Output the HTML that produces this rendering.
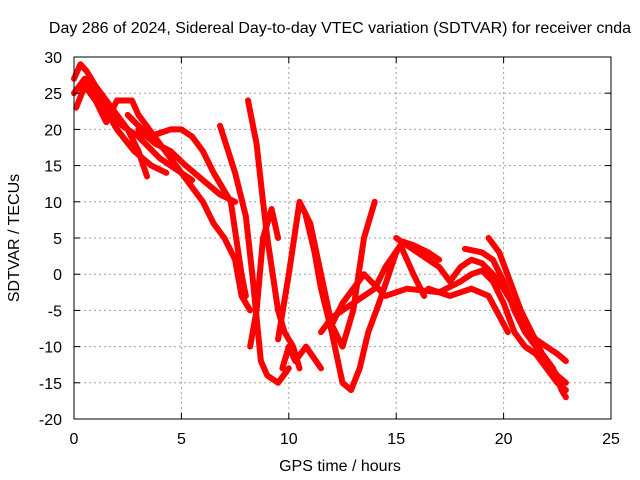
<!DOCTYPE html>
<html><head><meta charset="utf-8"><style>
body{margin:0;background:#fff;}
svg{display:block;font-family:"Liberation Sans",sans-serif;font-size:16px;}
</style></head><body>
<svg width="640" height="480">
<g id="grid"></g>
<g id="series"></g>
<rect x="74" y="57" width="537" height="362" fill="none" stroke="#000" stroke-width="1"/>
<g id="axes"></g>
<text x="340" y="33" text-anchor="middle">Day 286 of 2024, Sidereal Day-to-day VTEC variation (SDTVAR) for receiver cnda</text>
<text x="340" y="471" text-anchor="middle">GPS time / hours</text>
<text transform="translate(19,238) rotate(-90)" text-anchor="middle">SDTVAR / TECUs</text>
</svg>
<script>
const xTicks=[0,5,10,15,20,25];
const yTicks=[30,25,20,15,10,5,0,-5,-10,-15,-20];
const tA=[[0,27],[0.3,29],[0.6,28],[1,26],[1.5,24],[2,22],[2.5,20],[3,17],[3.4,13.5]];
const tB=[[0,25],[0.5,27],[1,25],[1.5,23],[2,21],[3,19],[4,16],[5,14],[5.5,13]];
const tC=[[0.1,23],[0.5,26],[1,24],[1.5,21],[2,24],[2.7,24],[3,22],[3.5,20],[4.5,16],[5.5,12],[6,10],[6.5,7],[7,5],[7.5,2],[7.8,-3],[8.2,-5]];
const tD=[[2.5,22],[3.5,19],[4.5,20],[5,20],[5.5,19],[6,17],[6.5,14],[7.3,10],[7.5,6],[7.8,0],[8,-3]];
const tE=[[6.8,20.5],[7.5,14],[8,8],[8.3,0],[8.5,-6],[8.7,-12],[9,-14],[9.5,-15],[10,-13]];
const tF=[[8.1,24],[8.5,18],[8.8,10],[9,5],[9.3,-1],[9.5,-5],[9.8,-8],[10.2,-10],[10.5,-13]];
const tG=[[8.2,-10],[8.5,-5],[8.8,5],[9.2,9],[9.5,5]];
const tH=[[9.5,-9],[10,0],[10.5,10],[11,7],[11.5,0],[12,-7],[12.5,-10],[13,-5],[13.5,5],[14,10]];
const tI=[[9.7,-13],[10,-10],[10.3,-12],[10.8,-10],[11.5,-13]];
const tJ=[[10.8,8],[11.2,3],[11.5,-2],[12,-8],[12.5,-15],[12.9,-16],[13.3,-13],[13.7,-8],[14.2,-4],[15,3],[15.3,4.5],[15.8,4],[16.5,3],[17,2]];
const tK=[[11.5,-8],[12,-6],[13,-4],[14,-2],[14.5,1],[15.2,4],[15.8,0],[16.3,-3]];
const tL=[[12,-7],[12.5,-4],[13.5,0],[14.5,-3],[15.5,-2],[17,-2.5],[18,-1],[18.5,0],[19,0.5],[19.5,-1],[20,-4],[20.5,-8],[21,-10],[21.5,-11],[22,-13],[22.5,-15],[22.9,-16]];
const tM=[[15,5],[16,3],[17,1],[17.5,-1],[18,1],[18.5,2],[19,1.5],[19.5,0],[20,-2],[21,-7],[21.5,-9],[22,-10],[22.5,-11],[22.9,-12]];
const tN=[[18.2,3.5],[19,3],[19.5,2],[20,-1],[20.5,-5],[21,-8],[21.5,-10],[22,-12],[22.5,-14],[22.9,-15]];
const tO=[[19.3,5],[19.8,3],[20.3,-1],[20.8,-5],[21.3,-8],[21.8,-11],[22.3,-13],[22.7,-16],[22.9,-17]];
const tQ=[[16.5,-2],[17.5,-3],[18.5,-2],[19.3,-3],[20.2,-8]];
const tR=[[1.2,24],[2,20],[2.8,17],[3.6,15],[4.3,14]];
const tS=[[3,20],[3.8,18],[4.5,17],[5.2,15],[6,13],[6.8,11],[7.5,10]];
const tracks=[tA,tB,tC,tD,tE,tF,tG,tH,tI,tJ,tK,tL,tM,tN,tO,tQ,tR,tS];
const NS='http://www.w3.org/2000/svg';
const X=v=>74+v*(537/25);
const Y=v=>57+(30-v)*(362/50);
const grid=document.getElementById('grid'),axes=document.getElementById('axes'),series=document.getElementById('series');
function mk(tag,attrs,parent){const e=document.createElementNS(NS,tag);for(const k in attrs)e.setAttribute(k,attrs[k]);parent.appendChild(e);return e;}
xTicks.forEach(t=>{
  if(t>0&&t<25){const g=mk('line',{x1:X(t),x2:X(t),y1:57,y2:419,stroke:'#a0a0a0','stroke-dasharray':'2,3'},grid);
  
  }
  const l=mk('text',{x:X(t),y:444,'text-anchor':'middle'},axes);l.textContent=t;
  
  
  mk('line',{x1:X(t),x2:X(t),y1:419,y2:413,stroke:'#000'},axes);
  mk('line',{x1:X(t),x2:X(t),y1:57,y2:63,stroke:'#000'},axes);
});
yTicks.forEach(t=>{
  if(t<30&&t>-20){const g=mk('line',{x1:74,x2:611,y1:Y(t),y2:Y(t),stroke:'#a0a0a0','stroke-dasharray':'2,3'},grid);
  
  }
  const l=mk('text',{x:62,y:Y(t)+6,'text-anchor':'end'},axes);l.textContent=t;
  
  
  mk('line',{x1:74,x2:80,y1:Y(t),y2:Y(t),stroke:'#000'},axes);
  mk('line',{x1:611,x2:605,y1:Y(t),y2:Y(t),stroke:'#000'},axes);
});
tracks.forEach((tr,i)=>{
  const p=mk('polyline',{points:tr.map(d=>X(d[0])+','+Y(d[1])).join(' '),fill:'none',stroke:'#ff0000','stroke-width':6,'stroke-linejoin':'round','stroke-linecap':'round'},series);
  
  
});
</script>
</body></html>
